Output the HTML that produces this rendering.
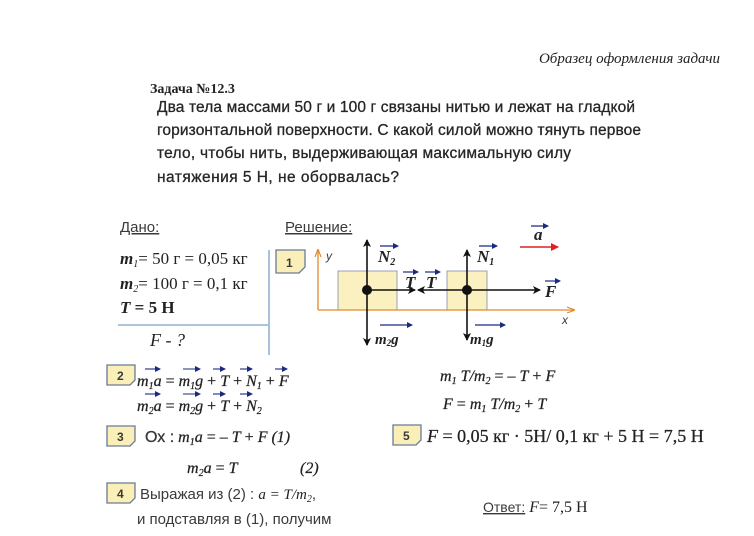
<!DOCTYPE html>
<html><head><meta charset="utf-8"><style>
html,body{margin:0;padding:0;background:#fff;width:754px;height:536px;overflow:hidden}
svg{display:block}
.s{font-family:"Liberation Sans",sans-serif;fill:#3a3a3a}
.r{font-family:"Liberation Serif",serif;fill:#222}
.i{font-style:italic}
</style></head><body>
<svg width="754" height="536" viewBox="0 0 754 536" xmlns="http://www.w3.org/2000/svg">
<defs>
<marker id="ah" markerWidth="8" markerHeight="8" refX="7" refY="4" orient="auto" markerUnits="userSpaceOnUse"><path d="M0,0 L8,4 L0,8 L2,4 z" fill="#111"/></marker>
<marker id="ao" markerWidth="8" markerHeight="8" refX="7" refY="4" orient="auto" markerUnits="userSpaceOnUse"><path d="M0,1 L8,4 L0,7" fill="none" stroke="#e08a2a" stroke-width="1.2"/></marker>
<marker id="ar" markerWidth="8" markerHeight="8" refX="7" refY="4" orient="auto" markerUnits="userSpaceOnUse"><path d="M0,0 L8,4 L0,8 z" fill="#d22"/></marker>
<marker id="sv" markerWidth="6" markerHeight="6" refX="5" refY="3" orient="auto" markerUnits="userSpaceOnUse"><path d="M0,0 L6,3 L0,6 z" fill="#1a2a80"/></marker>
</defs>

<text x="720" y="63" class="r i" font-size="15" text-anchor="end">Образец оформления задачи</text>
<text x="150" y="93" class="r" font-size="14" font-weight="bold">Задача №12.3</text>
<g class="s" font-size="15.5" style="fill:#262626" stroke="#262626" stroke-width="0.3">
<text x="157" y="112" textLength="478">Два тела массами  50 г и 100 г  связаны нитью  и лежат на гладкой</text>
<text x="157" y="135" textLength="484">горизонтальной поверхности. С какой силой можно тянуть первое</text>
<text x="157" y="158" textLength="414">тело, чтобы нить,  выдерживающая  максимальную   силу</text>
<text x="157" y="182" textLength="242">натяжения 5 Н,  не оборвалась?</text>
</g>

<text x="120" y="232" class="s" font-size="15" text-decoration="underline" fill="#333">Дано:</text>
<text x="285" y="232" class="s" font-size="15" text-decoration="underline" fill="#333">Решение:</text>
<g class="r" font-size="17">
<text x="120" y="264"><tspan class="i" font-weight="bold">m</tspan><tspan class="i" font-size="10" dy="3">1</tspan><tspan dy="-3">= 50 г = 0,05 кг</tspan></text>
<text x="120" y="289"><tspan class="i" font-weight="bold">m</tspan><tspan class="i" font-size="10" dy="3">2</tspan><tspan dy="-3">= 100 г = 0,1 кг</tspan></text>
<text x="120" y="313" font-weight="bold"><tspan class="i">T</tspan> = 5 Н</text>
<text x="150" y="346" class="i" font-size="18">F  - ?</text>
</g>
<line x1="118" y1="325" x2="268" y2="325" stroke="#7aa0c8" stroke-width="1.3"/>
<line x1="269" y1="250" x2="269" y2="355" stroke="#7aa0c8" stroke-width="1.3"/>

<path d="M276,250 H305 V267 L299,273 H276 Z" fill="#fbefb8" stroke="#6a7a9a" stroke-width="1.3"/>
<text x="286" y="267" class="s" font-size="12" font-weight="bold" fill="#222">1</text>

<rect x="338" y="271" width="59" height="39" fill="#fbf0c0" stroke="#9aa0b0" stroke-width="1"/>
<rect x="447" y="271" width="40" height="39" fill="#fbf0c0" stroke="#9aa0b0" stroke-width="1"/>
<line x1="318" y1="310" x2="318" y2="250" stroke="#e08a2a" stroke-width="1.3" marker-end="url(#ao)"/>
<line x1="318" y1="310" x2="574" y2="310" stroke="#e08a2a" stroke-width="1.3" marker-end="url(#ao)"/>
<text x="326" y="260" class="s i" font-size="12" fill="#222">y</text>
<text x="562" y="324" class="s i" font-size="12" fill="#222">x</text>
<line x1="367" y1="290" x2="367" y2="240" stroke="#111" stroke-width="1.6" marker-end="url(#ah)"/>
<line x1="367" y1="290" x2="367" y2="345" stroke="#111" stroke-width="1.6" marker-end="url(#ah)"/>
<line x1="467" y1="290" x2="467" y2="250" stroke="#111" stroke-width="1.6" marker-end="url(#ah)"/>
<line x1="467" y1="290" x2="467" y2="340" stroke="#111" stroke-width="1.6" marker-end="url(#ah)"/>
<line x1="367" y1="290" x2="415" y2="290" stroke="#111" stroke-width="1.6" marker-end="url(#ah)"/>
<line x1="467" y1="290" x2="418" y2="290" stroke="#111" stroke-width="1.6" marker-end="url(#ah)"/>
<line x1="467" y1="290" x2="540" y2="290" stroke="#111" stroke-width="1.6" marker-end="url(#ah)"/>
<circle cx="367" cy="290" r="5" fill="#111"/>
<circle cx="467" cy="290" r="5" fill="#111"/>
<line x1="520" y1="247" x2="558" y2="247" stroke="#d22" stroke-width="1.6" marker-end="url(#ar)"/>
<g class="r i" font-size="17" font-weight="bold" fill="#222">
<text x="534" y="240">a</text><line x1="531" y1="226" x2="548" y2="226" stroke="#1a2a80" stroke-width="1.2" marker-end="url(#sv)"/>
<text x="378" y="262">N<tspan font-size="10" dy="3">2</tspan></text><line x1="380" y1="246" x2="398" y2="246" stroke="#1a2a80" stroke-width="1.2" marker-end="url(#sv)"/>
<text x="477" y="262">N<tspan font-size="10" dy="3">1</tspan></text><line x1="479" y1="246" x2="497" y2="246" stroke="#1a2a80" stroke-width="1.2" marker-end="url(#sv)"/>
<text x="405" y="288">T</text><line x1="403" y1="272" x2="418" y2="272" stroke="#1a2a80" stroke-width="1.2" marker-end="url(#sv)"/>
<text x="426" y="288">T</text><line x1="425" y1="272" x2="440" y2="272" stroke="#1a2a80" stroke-width="1.2" marker-end="url(#sv)"/>
<text x="545" y="297">F</text><line x1="545" y1="281" x2="560" y2="281" stroke="#1a2a80" stroke-width="1.2" marker-end="url(#sv)"/>
<text x="375" y="344" font-size="15">m<tspan font-size="9" dy="2">2</tspan><tspan dy="-2">g</tspan></text><line x1="380" y1="325" x2="412" y2="325" stroke="#1a2a80" stroke-width="1.2" marker-end="url(#sv)"/>
<text x="470" y="344" font-size="15">m<tspan font-size="9" dy="2">1</tspan><tspan dy="-2">g</tspan></text><line x1="475" y1="325" x2="505" y2="325" stroke="#1a2a80" stroke-width="1.2" marker-end="url(#sv)"/>
</g>

<g stroke="#6a7a9a" stroke-width="1.3" fill="#fbefb8">
<path d="M107,365 H135 V380 L130,385 H107 Z"/>
<path d="M107,426 H135 V441 L130,446 H107 Z"/>
<path d="M107,483 H135 V498 L130,503 H107 Z"/>
<path d="M393,425 H421 V440 L416,445 H393 Z"/>
</g>
<g class="s" font-size="12" font-weight="bold" fill="#222">
<text x="117" y="380">2</text><text x="117" y="441">3</text><text x="117" y="498">4</text><text x="403" y="440">5</text>
</g>

<g class="r" font-size="16" fill="#222" stroke="#222" stroke-width="0.25">
<text x="137" y="386"><tspan class="i">m</tspan><tspan class="i" font-size="10" dy="3">1</tspan><tspan class="i" dy="-3">a</tspan> = <tspan class="i">m</tspan><tspan class="i" font-size="10" dy="3">1</tspan><tspan class="i" dy="-3">g</tspan> + <tspan class="i">T</tspan> + <tspan class="i">N</tspan><tspan class="i" font-size="10" dy="3">1</tspan><tspan dy="-3"> + </tspan><tspan class="i">F</tspan></text>
<text x="137" y="411"><tspan class="i">m</tspan><tspan class="i" font-size="10" dy="3">2</tspan><tspan class="i" dy="-3">a</tspan> = <tspan class="i">m</tspan><tspan class="i" font-size="10" dy="3">2</tspan><tspan class="i" dy="-3">g</tspan> + <tspan class="i">T</tspan> + <tspan class="i">N</tspan><tspan class="i" font-size="10" dy="3">2</tspan></text>
<text x="145" y="442"><tspan class="s" fill="#333">Ох :</tspan> <tspan class="i">m</tspan><tspan class="i" font-size="10" dy="3">1</tspan><tspan class="i" dy="-3">a</tspan> = – <tspan class="i">T</tspan> + <tspan class="i">F</tspan>  <tspan class="i">(1)</tspan></text>
<text x="187" y="473"><tspan class="i">m</tspan><tspan class="i" font-size="10" dy="3">2</tspan><tspan class="i" dy="-3">a</tspan> =  <tspan class="i">T</tspan></text>
<text x="300" y="473" class="i">(2)</text>
<text x="440" y="381"><tspan class="i">m</tspan><tspan class="i" font-size="10" dy="3">1</tspan><tspan class="i" dy="-3"> T/m</tspan><tspan class="i" font-size="10" dy="3">2</tspan><tspan dy="-3"> = – </tspan><tspan class="i">T</tspan> + <tspan class="i">F</tspan></text>
<text x="443" y="409"><tspan class="i">F</tspan> = <tspan class="i">m</tspan><tspan class="i" font-size="10" dy="3">1</tspan><tspan class="i" dy="-3"> T/m</tspan><tspan class="i" font-size="10" dy="3">2</tspan><tspan dy="-3"> + </tspan><tspan class="i">T</tspan></text>
<text x="427" y="442" font-size="18"><tspan class="i">F</tspan> = 0,05 кг · 5Н/ 0,1 кг + 5 Н = 7,5 Н</text>
</g>
<text x="483" y="512" class="r" font-size="16"><tspan class="s" font-size="14" text-decoration="underline" fill="#333">Ответ:</tspan>  <tspan class="i">F</tspan>= 7,5 Н</text>
<g stroke="#1a2a80" stroke-width="1.1">
<line x1="145" y1="369" x2="160" y2="369" marker-end="url(#sv)"/>
<line x1="183" y1="369" x2="200" y2="369" marker-end="url(#sv)"/>
<line x1="213" y1="369" x2="225" y2="369" marker-end="url(#sv)"/>
<line x1="240" y1="369" x2="252" y2="369" marker-end="url(#sv)"/>
<line x1="275" y1="369" x2="287" y2="369" marker-end="url(#sv)"/>
<line x1="145" y1="394" x2="160" y2="394" marker-end="url(#sv)"/>
<line x1="183" y1="394" x2="200" y2="394" marker-end="url(#sv)"/>
<line x1="213" y1="394" x2="225" y2="394" marker-end="url(#sv)"/>
<line x1="240" y1="394" x2="252" y2="394" marker-end="url(#sv)"/>
</g>
<g class="s" font-size="15" fill="#333">
<text x="140" y="499">Выражая  из  (2) : <tspan class="r i" fill="#222">a = T/m</tspan><tspan class="r i" font-size="10" dy="3" fill="#222">2</tspan><tspan dy="-3">,</tspan></text>
<text x="137" y="524">и подставляя  в  (1), получим</text>
</g>
</svg>
</body></html>
